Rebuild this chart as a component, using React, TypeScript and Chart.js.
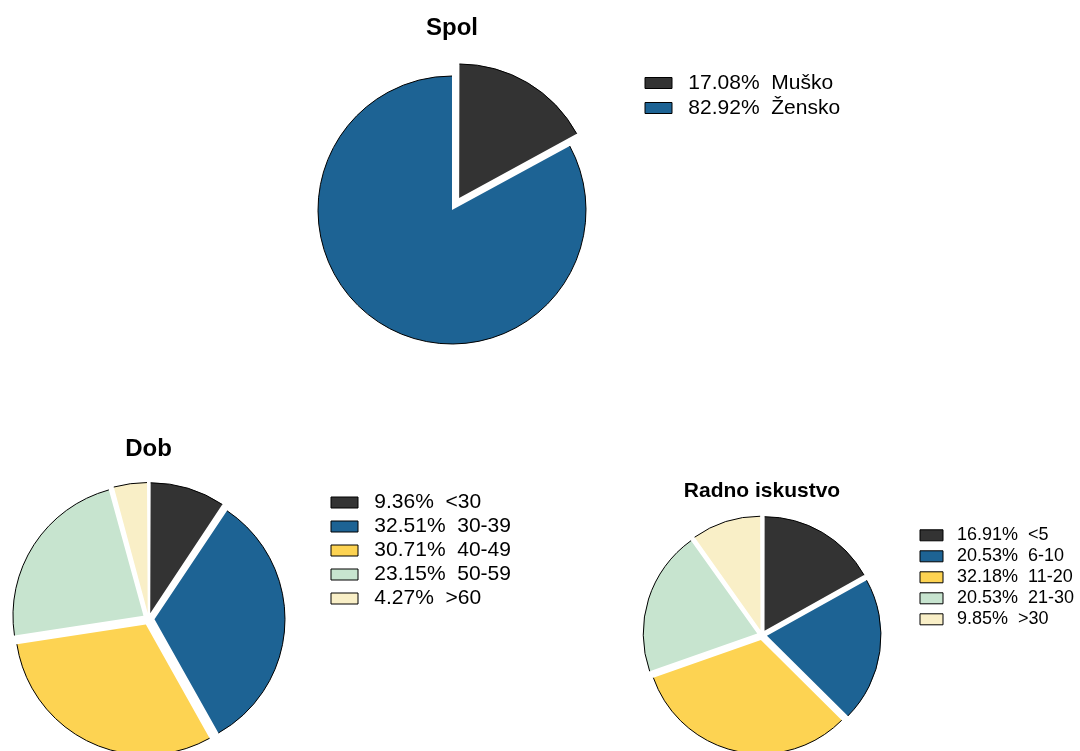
import React, { useEffect, useRef } from 'react';
import { Chart, registerables } from 'chart.js';

Chart.register(...registerables);

const FONT = "'Liberation Sans', Arial, Helvetica, sans-serif";

const sliceColors = ['#333333', '#1d6394', '#fdd352', '#c7e4cf', '#f9efc7'];

const spolTitle = 'Spol';
const spolLabels = ['Muško', 'Žensko'];
const spolValues = [17.08, 82.92];
const spolExplode = [56, 0];

const dobTitle = 'Dob';
const dobLabels = ['<30', '30-39', '40-49', '50-59', '>60'];
const dobValues = [9.36, 32.51, 30.71, 23.15, 4.27];
const dobExplode = [24, 24, 24, 24, 24];

const radnoTitle = 'Radno iskustvo';
const radnoLabels = ['<5', '6-10', '11-20', '21-30', '>30'];
const radnoValues = [16.91, 20.53, 32.18, 20.53, 9.85];
const radnoExplode = [20, 20, 20, 20, 20];

const labelText = (value: number, label: string) => ` ${value.toFixed(2)}%  ${label}`;

// Keeps exploded slices at the same radius and strokes the outer rim in black.
const rimPlugin = {
  id: 'rimPlugin',
  afterDatasetUpdate(chart: any, args: any) {
    const meta = chart.getDatasetMeta(args.index);
    meta.data.forEach((arc: any) => {
      const off = ((arc.options && arc.options.offset) || 0) / 4;
      const fix = 1 - Math.sin(Math.min(Math.PI, arc.circumference || 0));
      arc.outerRadius = arc.outerRadius - off * fix;
    });
  },
  afterDatasetDraw(chart: any, args: any) {
    const ctx = chart.ctx;
    const meta = chart.getDatasetMeta(args.index);
    meta.data.forEach((arc: any) => {
      const off = ((arc.options && arc.options.offset) || 0) / 4;
      const fix = 1 - Math.sin(Math.min(Math.PI, arc.circumference || 0));
      const rOff = off * fix;
      const R = arc.outerRadius + rOff;
      const alpha = arc.endAngle - arc.startAngle;
      const beta = Math.max(0.001, alpha * R - rOff / Math.PI) / R;
      const a = (alpha - beta) / 2;
      const half = (arc.startAngle + arc.endAngle) / 2;
      ctx.save();
      ctx.translate(Math.cos(half) * off, Math.sin(half) * off);
      ctx.beginPath();
      ctx.arc(arc.x, arc.y, R, arc.startAngle + a, arc.endAngle - a);
      ctx.lineWidth = 1;
      ctx.strokeStyle = '#000';
      ctx.stroke();
      ctx.restore();
    });
  },
};

type Spec = {
  title: string;
  labels: string[];
  values: number[];
  explode: number[];
  radius: number;
  left: number;
  top: number;
  width: number;
  height: number;
  chartW: number;
  padBottom: number;
  titleSize: number;
  titlePadTop: number;
  titlePadBottom: number;
  legendSize: number;
  legendPad: number;
  boxW: number;
  boxH: number;
};

const specs: Spec[] = [
  {
    title: spolTitle, labels: spolLabels, values: spolValues, explode: spolExplode,
    radius: 134, left: 263, top: 0, width: 620, height: 352, chartW: 378, padBottom: 0.5,
    titleSize: 24, titlePadTop: 13.6, titlePadBottom: 26.1,
    legendSize: 21, legendPad: 4, boxW: 27, boxH: 11,
  },
  {
    title: dobTitle, labels: dobLabels, values: dobValues, explode: dobExplode,
    radius: 130.5, left: -31, top: 400, width: 600, height: 351, chartW: 359, padBottom: 2,
    titleSize: 24, titlePadTop: 34.6, titlePadBottom: 25.6,
    legendSize: 21, legendPad: 3, boxW: 27, boxH: 11,
  },
  {
    title: radnoTitle, labels: radnoLabels, values: radnoValues, explode: radnoExplode,
    radius: 114, left: 607, top: 440, width: 520, height: 311, chartW: 310, padBottom: 4.3,
    titleSize: 21, titlePadTop: 38.4, titlePadBottom: 19.7,
    legendSize: 18, legendPad: 3, boxW: 23, boxH: 11,
  },
];

// Natural width Chart.js gives a vertical legend: padding + widest item + 10.
function legendWidth(spec: Spec): number {
  const c = document.createElement('canvas').getContext('2d') as CanvasRenderingContext2D;
  c.font = `normal ${spec.legendSize}px ${FONT}`;
  let maxText = 0;
  spec.labels.forEach((l, i) => {
    maxText = Math.max(maxText, c.measureText(labelText(spec.values[i], l)).width);
  });
  return spec.legendPad + spec.boxW + spec.legendSize / 2 + maxText + 10;
}

function PieChart({ spec }: { spec: Spec }) {
  const ref = useRef<HTMLCanvasElement | null>(null);
  useEffect(() => {
    if (!ref.current) return;
    const colors = sliceColors.slice(0, spec.values.length);
    const padRight = Math.max(0, spec.width - spec.chartW - legendWidth(spec));
    const chart = new Chart(ref.current, {
      type: 'pie',
      data: {
        labels: spec.labels,
        datasets: [
          {
            data: spec.values,
            backgroundColor: colors,
            borderWidth: 0,
            offset: spec.explode,
            radius: spec.radius,
            clip: false,
          } as any,
        ],
      },
      options: {
        responsive: false,
        animation: false,
        events: [],
        devicePixelRatio: 1,
        layout: { padding: { top: 0, left: 0, right: padRight, bottom: spec.padBottom } },
        plugins: {
          tooltip: { enabled: false },
          title: {
            display: true,
            text: spec.title,
            fullSize: false,
            color: '#000',
            font: { family: FONT, size: spec.titleSize, weight: 'bold' },
            padding: { top: spec.titlePadTop, bottom: spec.titlePadBottom },
          },
          legend: {
            display: true,
            position: 'right',
            align: 'start',
            fullSize: false,
            labels: {
              color: '#000',
              font: { family: FONT, size: spec.legendSize },
              padding: spec.legendPad,
              boxWidth: spec.boxW,
              boxHeight: spec.boxH,
              generateLabels: (ch: any) => {
                const ds = ch.data.datasets[0];
                return ch.data.labels.map((lab: string, i: number) => ({
                  text: labelText(ds.data[i], lab),
                  fillStyle: ds.backgroundColor[i],
                  strokeStyle: '#000',
                  lineWidth: 1,
                  fontColor: '#000',
                  hidden: false,
                  index: i,
                }));
              },
            },
          },
        },
      } as any,
      plugins: [rimPlugin],
    });
    return () => chart.destroy();
  }, [spec]);
  return (
    <canvas
      ref={ref}
      width={spec.width}
      height={spec.height}
      style={{ position: 'absolute', left: spec.left, top: spec.top, width: spec.width, height: spec.height }}
    />
  );
}

export default function App() {
  return (
    <div
      style={{
        position: 'absolute',
        left: 0,
        top: 0,
        width: 1080,
        height: 751,
        overflow: 'hidden',
        background: '#fff',
      }}
    >
      {specs.map((s) => (
        <PieChart key={s.title} spec={s} />
      ))}
    </div>
  );
}
